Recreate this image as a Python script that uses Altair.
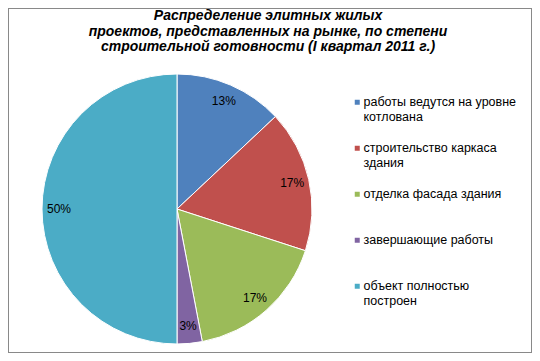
import altair as alt
import pandas as pd

categories = [
    "работы ведутся на уровне\nкотлована",
    "строительство каркаса\nздания",
    "отделка фасада здания",
    "завершающие работы",
    "объект полностью\nпостроен",
]
values = [13, 17, 17, 3, 50]
pct_labels = ["13%", "17%", "17%", "3%", "50%"]
colors = ["#4F81BD", "#C0504D", "#9BBB59", "#8064A2", "#4BACC6"]
title_lines = [
    "Распределение элитных жилых",
    "проектов, представленных на рынке, по степени",
    "строительной готовности (I квартал 2011 г.)",
]

df = pd.DataFrame({"cat": categories, "val": values, "lbl": pct_labels, "idx": list(range(len(values)))})

FONT = "Liberation Sans"
W, H = 524, 345
CX, CY = 169, 201  # pie centre inside the chart area

base = alt.Chart(df).encode(
    theta=alt.Theta("val:Q", stack=True),
    order=alt.Order("idx:Q"),
    x=alt.value(CX),
    y=alt.value(CY),
)

pie = base.mark_arc(outerRadius=135, stroke="white", strokeWidth=1).encode(
    color=alt.Color(
        "cat:N",
        scale=alt.Scale(domain=categories, range=colors),
        legend=alt.Legend(
            title=None,
            orient="none",
            legendX=343,
            legendY=88,
            symbolType="square",
            symbolSize=25,
            symbolStrokeWidth=0,
            labelFont=FONT,
            labelFontSize=12.5,
            labelColor="#000000",
            labelLimit=300,
            labelOffset=0,
            labelExpr="indexof(datum.label, '\\n') >= 0 ? split(datum.label, '\\n') : [datum.label, ' ']",
            rowPadding=18,
        ),
    )
)

text = base.mark_text(radius=118, font=FONT, fontSize=12, color="#000000").encode(text="lbl:N")

# chart border
frame = alt.Chart(pd.DataFrame({"a": [0]})).mark_rect(
    fill="transparent", stroke="#898989", strokeWidth=2
).encode(x=alt.value(0), x2=alt.value(W), y=alt.value(0), y2=alt.value(H))

chart = alt.layer(frame, pie, text).properties(
    width=W,
    height=H,
    padding=0,
    autosize=alt.AutoSizeParams(type="none"),
    title=alt.Title(
        title_lines,
        font=FONT,
        fontSize=14,
        fontWeight="bold",
        fontStyle="italic",
        color="#000000",
        anchor="middle",
        dx=-2,
        offset=-47,
        lineHeight=15.5,
    ),
).configure_view(stroke=None).configure(background="white")

chart.save("out.html", embed_options={"renderer": "svg", "actions": False})
